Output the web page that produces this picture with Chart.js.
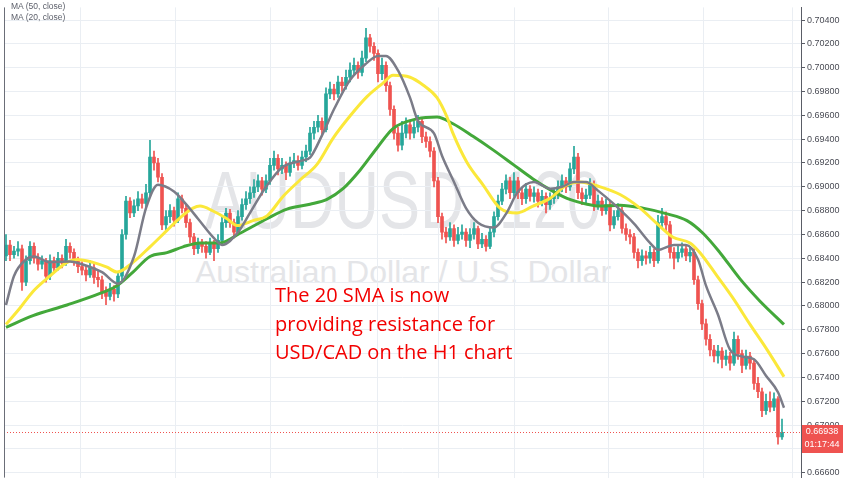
<!DOCTYPE html>
<html><head><meta charset="utf-8">
<script src="https://cdn.jsdelivr.net/npm/chart.js@4"></script>
<style>
html,body{margin:0;padding:0;background:#fff;overflow:hidden}
#wrap{position:relative;width:852px;height:485px}
#wm{position:absolute;left:0;top:0;width:852px;height:485px;z-index:0;font-family:"Liberation Sans",Arial,sans-serif;color:#e4e5e8}
.w1{position:absolute;left:403px;top:159px;font-size:82px;line-height:1;white-space:nowrap;transform:translateX(-50%) scaleX(0.75)}
.w2{position:absolute;left:403px;top:256px;font-size:32px;line-height:1;white-space:nowrap;transform:translateX(-50%)}
#cw{position:absolute;left:0;top:0;width:852px;height:485px;z-index:1}
.leg{position:absolute;left:11px;z-index:2;font-family:"Liberation Sans",Arial,sans-serif;font-size:8.5px;color:#5d606b;line-height:10px}
#note{position:absolute;left:275px;top:281px;z-index:2;font-family:"Open Sans",sans-serif;font-size:20px;line-height:28.5px;color:#f20000;white-space:nowrap}
</style></head>
<body>
<div id="wrap">
  <div id="wm"><div class="w1">AUDUSD, 120</div><div class="w2">Australian Dollar / U.S. Dollar</div></div>
  <div id="cw"><canvas id="c"></canvas></div>
  <div class="leg" style="top:1px">MA (50, close)</div>
  <div class="leg" style="top:12px">MA (20, close)</div>
  <div id="note">The 20 SMA is now<br>providing resistance for<br>USD/CAD on the H1 chart</div>
</div>
<script>
const opens = [
0.6842,0.6851,0.6843,0.6846,0.6848,0.6820,0.6838,0.6850,0.6840,0.6835,
0.6838,0.6825,0.6838,0.6832,0.6840,0.6836,0.6850,0.6845,0.6838,0.6833,
0.6830,0.6826,0.6832,0.6824,0.6822,0.6812,0.6808,0.6814,0.6810,0.6825,
0.6860,0.6888,0.6878,0.6884,0.6890,0.6886,0.6895,0.6925,0.6920,0.6908,
0.6868,0.6875,0.6880,0.6872,0.6890,0.6882,0.6870,0.6858,0.6848,0.6852,
0.6850,0.6845,0.6852,0.6848,0.6855,0.6870,0.6878,0.6870,0.6862,0.6875,
0.6885,0.6890,0.6895,0.6900,0.6905,0.6898,0.6905,0.6918,0.6924,0.6915,
0.6918,0.6912,0.6920,0.6922,0.6918,0.6925,0.6930,0.6945,0.6950,0.6955,
0.6948,0.6978,0.6982,0.6978,0.6988,0.6985,0.6992,0.6998,0.7002,0.6996,
0.7008,0.7025,0.7018,0.7012,0.6995,0.7002,0.6985,0.6965,0.6945,0.6935,
0.6945,0.6952,0.6945,0.6950,0.6955,0.6942,0.6938,0.6930,0.6905,0.6875,
0.6862,0.6858,0.6865,0.6855,0.6860,0.6862,0.6855,0.6860,0.6865,0.6852,
0.6856,0.6850,0.6862,0.6875,0.6888,0.6898,0.6905,0.6895,0.6905,0.6895,
0.6890,0.6898,0.6892,0.6895,0.6888,0.6892,0.6885,0.6890,0.6893,0.6900,
0.6905,0.6900,0.6915,0.6925,0.6895,0.6890,0.6893,0.6902,0.6885,0.6888,
0.6880,0.6885,0.6868,0.6875,0.6880,0.6865,0.6860,0.6858,0.6845,0.6838,
0.6842,0.6840,0.6845,0.6838,0.6870,0.6875,0.6868,0.6845,0.6840,0.6845,
0.6848,0.6842,0.6845,0.6822,0.6802,0.6785,0.6772,0.6763,0.6758,0.6762,
0.6755,0.6758,0.6752,0.6772,0.6760,0.6750,0.6758,0.6752,0.6735,0.6728,
0.6712,0.6720,0.6715,0.6722,0.6690];
const highs = [
0.6860,0.6855,0.6850,0.6854,0.6851,0.6842,0.6854,0.6853,0.6844,0.6842,
0.6840,0.6843,0.6841,0.6845,0.6843,0.6856,0.6853,0.6848,0.6841,0.6837,
0.6834,0.6838,0.6835,0.6829,0.6825,0.6816,0.6819,0.6817,0.6829,0.6864,
0.6892,0.6891,0.6889,0.6896,0.6894,0.6902,0.6939,0.6930,0.6924,0.6911,
0.6880,0.6885,0.6883,0.6895,0.6893,0.6885,0.6873,0.6861,0.6857,0.6856,
0.6854,0.6857,0.6855,0.6860,0.6875,0.6882,0.6881,0.6873,0.6880,0.6890,
0.6896,0.6900,0.6906,0.6910,0.6908,0.6910,0.6924,0.6930,0.6927,0.6924,
0.6921,0.6925,0.6928,0.6926,0.6930,0.6935,0.6950,0.6955,0.6960,0.6958,
0.6983,0.6988,0.6986,0.6993,0.6992,0.6998,0.7004,0.7008,0.7005,0.7014,
0.7033,0.7028,0.7021,0.7015,0.7008,0.7005,0.6988,0.6968,0.6950,0.6955,
0.6958,0.6956,0.6955,0.6960,0.6958,0.6946,0.6942,0.6933,0.6908,0.6878,
0.6866,0.6870,0.6868,0.6866,0.6868,0.6865,0.6865,0.6870,0.6867,0.6861,
0.6859,0.6866,0.6879,0.6893,0.6903,0.6910,0.6908,0.6912,0.6908,0.6899,
0.6903,0.6901,0.6900,0.6898,0.6897,0.6895,0.6895,0.6898,0.6905,0.6910,
0.6908,0.6920,0.6934,0.6928,0.6899,0.6898,0.6907,0.6905,0.6893,0.6891,
0.6890,0.6888,0.6880,0.6886,0.6883,0.6869,0.6864,0.6861,0.6848,0.6847,
0.6846,0.6850,0.6848,0.6876,0.6882,0.6879,0.6871,0.6849,0.6850,0.6853,
0.6851,0.6850,0.6848,0.6825,0.6805,0.6789,0.6776,0.6767,0.6767,0.6765,
0.6763,0.6761,0.6778,0.6775,0.6763,0.6763,0.6761,0.6755,0.6740,0.6731,
0.6726,0.6728,0.6727,0.6724,0.6705];
const lows = [
0.6838,0.6838,0.6840,0.6842,0.6813,0.6817,0.6835,0.6836,0.6830,0.6831,
0.6820,0.6822,0.6828,0.6830,0.6832,0.6834,0.6840,0.6834,0.6828,0.6826,
0.6821,0.6824,0.6819,0.6816,0.6806,0.6801,0.6805,0.6804,0.6807,0.6822,
0.6856,0.6874,0.6875,0.6880,0.6882,0.6883,0.6892,0.6914,0.6904,0.6864,
0.6864,0.6870,0.6867,0.6870,0.6878,0.6866,0.6853,0.6843,0.6844,0.6845,
0.6840,0.6843,0.6838,0.6845,0.6853,0.6866,0.6866,0.6857,0.6860,0.6872,
0.6881,0.6886,0.6891,0.6896,0.6893,0.6895,0.6902,0.6914,0.6910,0.6911,
0.6906,0.6909,0.6916,0.6914,0.6915,0.6921,0.6927,0.6940,0.6946,0.6944,
0.6946,0.6974,0.6973,0.6975,0.6980,0.6982,0.6988,0.6994,0.6991,0.6993,
0.7005,0.7013,0.7006,0.6988,0.6990,0.6980,0.6960,0.6940,0.6930,0.6931,
0.6941,0.6940,0.6941,0.6946,0.6937,0.6933,0.6925,0.6900,0.6870,0.6856,
0.6853,0.6855,0.6850,0.6852,0.6856,0.6850,0.6849,0.6856,0.6848,0.6849,
0.6846,0.6848,0.6858,0.6872,0.6885,0.6894,0.6890,0.6892,0.6890,0.6885,
0.6886,0.6888,0.6887,0.6883,0.6884,0.6878,0.6881,0.6886,0.6890,0.6896,
0.6895,0.6897,0.6911,0.6890,0.6885,0.6886,0.6890,0.6880,0.6881,0.6876,
0.6877,0.6863,0.6865,0.6872,0.6861,0.6855,0.6852,0.6840,0.6832,0.6834,
0.6835,0.6836,0.6833,0.6836,0.6866,0.6863,0.6840,0.6831,0.6837,0.6841,
0.6838,0.6837,0.6818,0.6797,0.6780,0.6767,0.6758,0.6753,0.6752,0.6748,
0.6750,0.6746,0.6750,0.6755,0.6744,0.6747,0.6747,0.6730,0.6723,0.6707,
0.6709,0.6711,0.6712,0.6684,0.6688];
const closes = [
0.6851,0.6843,0.6846,0.6848,0.6820,0.6838,0.6850,0.6840,0.6835,0.6838,
0.6825,0.6838,0.6832,0.6840,0.6836,0.6850,0.6845,0.6838,0.6833,0.6830,
0.6826,0.6832,0.6824,0.6822,0.6812,0.6808,0.6814,0.6810,0.6825,0.6860,
0.6888,0.6878,0.6884,0.6890,0.6886,0.6895,0.6925,0.6920,0.6908,0.6868,
0.6875,0.6880,0.6872,0.6890,0.6882,0.6870,0.6858,0.6848,0.6852,0.6850,
0.6845,0.6852,0.6848,0.6855,0.6870,0.6878,0.6870,0.6862,0.6875,0.6885,
0.6890,0.6895,0.6900,0.6905,0.6898,0.6905,0.6918,0.6924,0.6915,0.6918,
0.6912,0.6920,0.6922,0.6918,0.6925,0.6930,0.6945,0.6950,0.6955,0.6948,
0.6978,0.6982,0.6978,0.6988,0.6985,0.6992,0.6998,0.7002,0.6996,0.7008,
0.7025,0.7018,0.7012,0.6995,0.7002,0.6985,0.6965,0.6945,0.6935,0.6945,
0.6952,0.6945,0.6950,0.6955,0.6942,0.6938,0.6930,0.6905,0.6875,0.6862,
0.6858,0.6865,0.6855,0.6860,0.6862,0.6855,0.6860,0.6865,0.6852,0.6856,
0.6850,0.6862,0.6875,0.6888,0.6898,0.6905,0.6895,0.6905,0.6895,0.6890,
0.6898,0.6892,0.6895,0.6888,0.6892,0.6885,0.6890,0.6893,0.6900,0.6905,
0.6900,0.6915,0.6925,0.6895,0.6890,0.6893,0.6902,0.6885,0.6888,0.6880,
0.6885,0.6868,0.6875,0.6880,0.6865,0.6860,0.6858,0.6845,0.6838,0.6842,
0.6840,0.6845,0.6838,0.6870,0.6875,0.6868,0.6845,0.6840,0.6845,0.6848,
0.6842,0.6845,0.6822,0.6802,0.6785,0.6772,0.6763,0.6758,0.6762,0.6755,
0.6758,0.6752,0.6772,0.6760,0.6750,0.6758,0.6752,0.6735,0.6728,0.6712,
0.6720,0.6715,0.6722,0.6690,0.66938];

// moving averages: [candle index, value]
const maGray = [[0,0.68008],[2,0.68252],[5,0.6839],[7,0.68415],[11,0.68366],[16,0.68374],[19,0.6835],[24,0.68284],[28,0.68187],[32,0.68415],[35,0.68821],[38,0.69017],[42,0.6896],[45,0.68854],[48,0.68732],[52,0.68569],[54,0.68512],[58,0.68618],[61,0.68781],[65,0.69],[69,0.69163],[74,0.6922],[76,0.69245],[79,0.69432],[82,0.69651],[86,0.69896],[90,0.70034],[93,0.70099],[95,0.70099],[98,0.69977],[101,0.69749],[103,0.69554],[107,0.69448],[109,0.69261],[112,0.69041],[115,0.68821],[118,0.68699],[122,0.68659],[125,0.68773],[128,0.6896],[132,0.69041],[136,0.68984],[139,0.69],[142,0.69041],[145,0.69041],[148,0.68968],[152,0.68854],[157,0.68691],[161,0.68529],[163,0.68471],[167,0.68512],[170,0.68512],[173,0.6839],[175,0.6817],[178,0.67926],[181,0.67633],[184,0.67576],[187,0.67552],[190,0.67414],[193,0.67275],[194.5,0.67145]];
const maYellow = [[0,0.67845],[3.5,0.67983],[6.75,0.68122],[11,0.68252],[15.25,0.68366],[17.75,0.6839],[21.75,0.68366],[25.25,0.68325],[27.75,0.68284],[31.75,0.68366],[36,0.68496],[40.25,0.68634],[43.5,0.6874],[46.75,0.68821],[48.5,0.68838],[51.75,0.68797],[55.25,0.68732],[57.75,0.68675],[61.75,0.68716],[65.25,0.68756],[69.25,0.68919],[73.5,0.69057],[77.75,0.69188],[81.75,0.69407],[86,0.69594],[90.25,0.69757],[94.25,0.69871],[96.75,0.69936],[101,0.6992],[104.25,0.69855],[107.75,0.69749],[110.25,0.69586],[111.75,0.69448],[115.25,0.69204],[119.25,0.69017],[123.5,0.68821],[127.75,0.68781],[131.75,0.68838],[136,0.68903],[140.25,0.69017],[143.5,0.69041],[148.5,0.69],[153.5,0.68935],[158.5,0.68821],[162.75,0.68691],[166.75,0.68577],[171,0.68529],[173.5,0.68447],[177.75,0.68252],[181.75,0.68065],[186,0.67845],[190.25,0.67633],[194.5,0.67406]];
const maGreen = [[0,0.6782],[6.75,0.67918],[15.25,0.68008],[23.5,0.68105],[27.75,0.6817],[31.75,0.68284],[36,0.68415],[40.25,0.68447],[44.25,0.68496],[48.5,0.68529],[53.5,0.68529],[58.5,0.6861],[65.25,0.68732],[70.25,0.68813],[76,0.68854],[80.25,0.68895],[84.25,0.68984],[88.5,0.69139],[92.75,0.69326],[96.75,0.69489],[102.75,0.6957],[107.75,0.69586],[111.75,0.69529],[116.75,0.69424],[121.75,0.6931],[126.75,0.69188],[131.75,0.69066],[136,0.68976],[140.25,0.68903],[145.25,0.68854],[148.5,0.68838],[153.5,0.68846],[159.25,0.68821],[165.25,0.68773],[170.25,0.68716],[174.25,0.6861],[178.5,0.68447],[183.5,0.68227],[188.5,0.6804],[194.5,0.67845]];

const yTicks = [0.666,0.668,0.670,0.672,0.674,0.676,0.678,0.680,0.682,0.684,0.686,0.688,0.690,0.692,0.694,0.696,0.698,0.700,0.702,0.704];
const timeGrid = [18.5,42.25,66,92.75,108,127,150.5,174.25,196.5];
const lastPrice = closes[closes.length-1];
const timerText = '01:17:44';

const UP='#26a69a', DOWN='#ef5350';
const candleColors = closes.map((c,i)=> c>=opens[i] ? UP : DOWN);
const wickData = closes.map((c,i)=>({x:i, y:[lows[i], highs[i]]}));
const bodyData = closes.map((c,i)=>({x:i, y:[opens[i], c]}));
const toXY = arr => arr.map(p=>({x:p[0], y:p[1]}));

const overlay = {
  id:'overlay',
  afterDatasetsDraw(chart){
    const {ctx, chartArea:a, scales:{y}} = chart;
    const py = Math.round(y.getPixelForValue(lastPrice))+0.5;
    ctx.save();
    ctx.strokeStyle=DOWN; ctx.lineWidth=1; ctx.setLineDash([1,2]);
    ctx.beginPath(); ctx.moveTo(a.left,py); ctx.lineTo(a.right,py); ctx.stroke();
    ctx.setLineDash([]);
    ctx.strokeStyle='#6b6e78';
    ctx.beginPath(); ctx.moveTo(a.left+0.5,a.top); ctx.lineTo(a.left+0.5,a.bottom); ctx.stroke();
    ctx.restore();
  },
  afterDraw(chart){
    const {ctx, chartArea:a, scales:{y}} = chart;
    const py = Math.round(y.getPixelForValue(lastPrice));
    ctx.save();
    ctx.fillStyle=DOWN;
    ctx.fillRect(a.right+1, py-7, 41, 28);
    ctx.fillStyle='#fff';
    ctx.font='9px "Liberation Sans", Arial, sans-serif';
    ctx.textAlign='center'; ctx.textBaseline='middle';
    ctx.fillText(lastPrice.toFixed(5), a.right+21, py);
    ctx.fillText(timerText, a.right+21, py+13);
    ctx.restore();
  }
};

new Chart(document.getElementById('c'), {
  type:'bar',
  data:{datasets:[
    {type:'line', data:toXY(maGray), borderColor:'#7b7c88', borderWidth:2.5, pointRadius:0, cubicInterpolationMode:'monotone', order:0},
    {type:'line', data:toXY(maYellow), borderColor:'#fbe83a', borderWidth:3, pointRadius:0, cubicInterpolationMode:'monotone', order:1},
    {type:'line', data:toXY(maGreen), borderColor:'#43a83a', borderWidth:3, pointRadius:0, cubicInterpolationMode:'monotone', order:2},
    {type:'bar', data:bodyData, backgroundColor:candleColors, barThickness:3, grouped:false, minBarLength:1, borderWidth:0, order:3},
    {type:'bar', data:wickData, backgroundColor:candleColors, barThickness:1, grouped:false, borderWidth:0, order:4}
  ]},
  options:{
    responsive:true, maintainAspectRatio:false, animation:false,
    layout:{padding:{left:4,right:0,top:0,bottom:0}},
    plugins:{legend:{display:false}, tooltip:{enabled:false}},
    scales:{
      x:{type:'linear', min:-0.5, max:198.75, offset:false,
         grid:{color:'#eaeef3', offset:false, drawTicks:false},
         border:{display:false}, ticks:{display:false},
         afterBuildTicks:s=>{s.ticks=timeGrid.map(v=>({value:v}));},
         afterFit:s=>{s.height=0;}},
      y:{type:'linear', position:'right', min:0.66559, max:0.70506, beginAtZero:false,
         grid:{color:'#eaeef3', tickColor:'#5a5d66', tickLength:4},
         border:{display:true, color:'#5a5d66', width:1},
         ticks:{font:{family:'Liberation Sans', size:9}, color:'#4a4c55', padding:2, autoSkip:false, callback:v=>v.toFixed(5)},
         afterBuildTicks:s=>{s.ticks=yTicks.map(v=>({value:v}));},
         afterFit:s=>{s.width=51;}}
    }
  },
  plugins:[overlay]
});
</script>
</body></html>
